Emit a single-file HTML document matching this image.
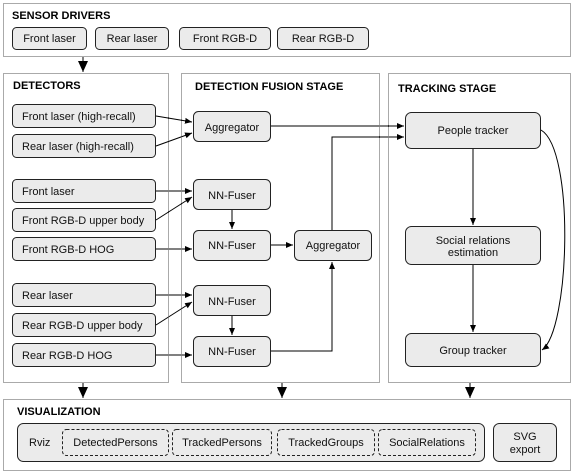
<!DOCTYPE html>
<html><head><style>
body{margin:0;background:#fff;}
svg{display:block;font-family:"Liberation Sans",Arial,sans-serif;}
.b{fill:#ebebeb;stroke:#222;stroke-width:1;}
.t{font-size:11px;fill:#111;text-anchor:middle;}
.tl{font-size:11px;fill:#111;}
.h{font-size:11px;font-weight:bold;fill:#000;}
.c{fill:none;stroke:#555;stroke-width:1;stroke-dasharray:1,1;}
.l{fill:none;stroke:#000;stroke-width:1;}
</style></head><body>
<svg width="574" height="474" viewBox="0 0 574 474">
<defs><marker id="a" markerWidth="8" markerHeight="8" refX="7" refY="4" orient="auto" markerUnits="userSpaceOnUse"><path d="M0,1 L7,4 L0,7 z" fill="#000"/></marker>
<marker id="A" markerWidth="12" markerHeight="10" refX="11" refY="5" orient="auto" markerUnits="userSpaceOnUse"><path d="M0,0 L11,5 L0,10 z" fill="#000"/></marker></defs>
<rect class="c" x="3.5" y="3.5" width="567" height="53"/>
<rect class="c" x="3.5" y="73.5" width="165" height="309"/>
<rect class="c" x="181.5" y="73.5" width="198" height="309"/>
<rect class="c" x="388.5" y="73.5" width="182" height="309"/>
<rect class="c" x="3.5" y="399.5" width="567" height="71"/>
<text class="h" x="12" y="19">SENSOR DRIVERS</text>
<text class="h" x="13" y="89">DETECTORS</text>
<text class="h" x="195" y="90">DETECTION FUSION STAGE</text>
<text class="h" x="398" y="92">TRACKING STAGE</text>
<text class="h" x="17" y="415">VISUALIZATION</text>
<rect class="b" x="12.5" y="27.5" width="74" height="22" rx="4"/><text class="t" x="49.5" y="42">Front laser</text>
<rect class="b" x="95.5" y="27.5" width="73" height="22" rx="4"/><text class="t" x="132" y="42">Rear laser</text>
<rect class="b" x="179.5" y="27.5" width="91" height="22" rx="4"/><text class="t" x="225" y="42">Front RGB-D</text>
<rect class="b" x="277.5" y="27.5" width="91" height="22" rx="4"/><text class="t" x="323" y="42">Rear RGB-D</text>
<line x1="83" y1="57" x2="83" y2="72" class="l" marker-end="url(#A)"/>
<line x1="83" y1="383" x2="83" y2="398" class="l" marker-end="url(#A)"/>
<line x1="282" y1="383" x2="282" y2="398" class="l" marker-end="url(#A)"/>
<line x1="470" y1="383" x2="470" y2="398" class="l" marker-end="url(#A)"/>
<rect class="b" x="12.5" y="104.5" width="143" height="23" rx="4"/><text class="tl" x="22" y="120">Front laser  (high-recall)</text>
<rect class="b" x="12.5" y="134.5" width="143" height="23" rx="4"/><text class="tl" x="22" y="150">Rear laser  (high-recall)</text>
<rect class="b" x="12.5" y="179.5" width="143" height="23" rx="4"/><text class="tl" x="22" y="195">Front laser</text>
<rect class="b" x="12.5" y="208.5" width="143" height="23" rx="4"/><text class="tl" x="22" y="224">Front RGB-D upper body</text>
<rect class="b" x="12.5" y="237.5" width="143" height="23" rx="4"/><text class="tl" x="22" y="253">Front RGB-D HOG</text>
<rect class="b" x="12.5" y="283.5" width="143" height="23" rx="4"/><text class="tl" x="22" y="299">Rear laser</text>
<rect class="b" x="12.5" y="313.5" width="143" height="23" rx="4"/><text class="tl" x="22" y="329">Rear RGB-D upper body</text>
<rect class="b" x="12.5" y="343.5" width="143" height="23" rx="4"/><text class="tl" x="22" y="359">Rear RGB-D HOG</text>
<rect class="b" x="193.5" y="111.5" width="77" height="30" rx="5"/><text class="t" x="232" y="131">Aggregator</text>
<rect class="b" x="193.5" y="179.5" width="77" height="30" rx="5"/><text class="t" x="232" y="199">NN-Fuser</text>
<rect class="b" x="193.5" y="230.5" width="77" height="30" rx="5"/><text class="t" x="232" y="249">NN-Fuser</text>
<rect class="b" x="294.5" y="230.5" width="77" height="30" rx="5"/><text class="t" x="333" y="249">Aggregator</text>
<rect class="b" x="193.5" y="285.5" width="77" height="30" rx="5"/><text class="t" x="232" y="305">NN-Fuser</text>
<rect class="b" x="193.5" y="336.5" width="77" height="30" rx="5"/><text class="t" x="232" y="355">NN-Fuser</text>
<rect class="b" x="405.5" y="112.5" width="135" height="36" rx="6"/><text class="t" x="473" y="134">People tracker</text>
<rect class="b" x="405.5" y="226.5" width="135" height="38" rx="6"/><text class="t" x="473" y="244">Social relations</text><text class="t" x="473" y="256">estimation</text>
<rect class="b" x="405.5" y="333.5" width="135" height="33" rx="6"/><text class="t" x="473" y="354">Group tracker</text>
<line class="l" x1="156" y1="116" x2="192" y2="122" marker-end="url(#a)"/>
<line class="l" x1="156" y1="146" x2="192" y2="133" marker-end="url(#a)"/>
<line class="l" x1="156" y1="191" x2="192" y2="191" marker-end="url(#a)"/>
<line class="l" x1="156" y1="220" x2="192" y2="197" marker-end="url(#a)"/>
<line class="l" x1="156" y1="249" x2="192" y2="249" marker-end="url(#a)"/>
<line class="l" x1="232" y1="210" x2="232" y2="229" marker-end="url(#a)"/>
<line class="l" x1="271" y1="245" x2="293" y2="245" marker-end="url(#a)"/>
<line class="l" x1="156" y1="295" x2="192" y2="295" marker-end="url(#a)"/>
<line class="l" x1="156" y1="325" x2="192" y2="302" marker-end="url(#a)"/>
<line class="l" x1="156" y1="355" x2="192" y2="355" marker-end="url(#a)"/>
<line class="l" x1="232" y1="316" x2="232" y2="335" marker-end="url(#a)"/>
<polyline class="l" points="271,351 332,351 332,262" marker-end="url(#a)"/>
<polyline class="l" points="332,230 332,137 404,137" marker-end="url(#a)"/>
<line class="l" x1="271" y1="126" x2="404" y2="126" marker-end="url(#a)"/>
<line class="l" x1="473" y1="149" x2="473" y2="225" marker-end="url(#a)"/>
<line class="l" x1="473" y1="265" x2="473" y2="332" marker-end="url(#a)"/>
<path class="l" d="M541,130 C575,150 570,330 542,350" marker-end="url(#a)"/>
<rect class="b" x="17.5" y="423.5" width="467" height="38" rx="6"/>
<text class="tl" x="29" y="446">Rviz</text>
<rect class="b" x="62.5" y="429.5" width="106" height="26" rx="4" style="stroke-dasharray:3,2"/>
<rect class="b" x="172.5" y="429.5" width="99" height="26" rx="4" style="stroke-dasharray:3,2"/>
<rect class="b" x="277.5" y="429.5" width="97" height="26" rx="4" style="stroke-dasharray:3,2"/>
<rect class="b" x="378.5" y="429.5" width="97" height="26" rx="4" style="stroke-dasharray:3,2"/>
<text class="t" x="115.5" y="446">DetectedPersons</text>
<text class="t" x="222" y="446">TrackedPersons</text>
<text class="t" x="326" y="446">TrackedGroups</text>
<text class="t" x="427" y="446">SocialRelations</text>
<rect class="b" x="493.5" y="423.5" width="63" height="38" rx="6"/>
<text class="t" x="525" y="440">SVG</text><text class="t" x="525" y="453">export</text>
</svg>
</body></html>
